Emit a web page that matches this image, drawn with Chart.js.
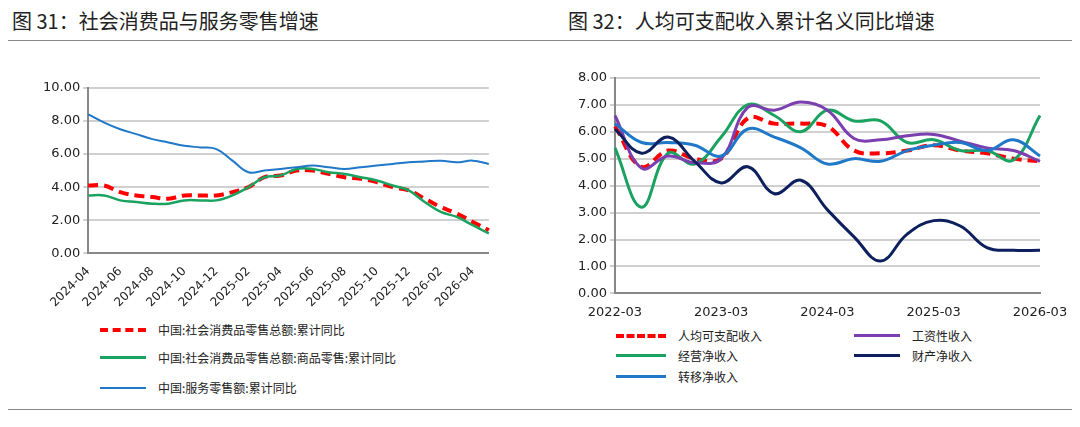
<!DOCTYPE html>
<html><head><meta charset="utf-8">
<script src="https://cdn.jsdelivr.net/npm/chart.js@4/dist/chart.umd.min.js"></script>
<style>
body{margin:0;width:1080px;height:427px;background:#fff;position:relative;font-family:"Noto Sans CJK SC",sans-serif;overflow:hidden}
.title{position:absolute;top:6px;font-size:20px;color:#222}
.rule{position:absolute;left:8px;width:1064px;border-top:1px solid #888}
.box{position:absolute}
.leg{position:absolute;font-size:12px;color:#222;display:flex;align-items:center}
.leg span{display:inline-block;width:46px;margin-right:12px}
</style></head><body>
<div class="title" style="left:12px">图 31：社会消费品与服务零售增速</div>
<div class="title" style="left:568px">图 32：人均可支配收入累计名义同比增速</div>
<div class="rule" style="top:40px"></div>
<div class="rule" style="top:409px"></div>
<div class="box" style="left:40px;top:77px;width:462px;height:236px"><canvas id="c1"></canvas></div>
<div class="box" style="left:575px;top:67px;width:505px;height:256px"><canvas id="c2"></canvas></div>

<div class="leg" style="left:100px;top:321px"><span style="border-top:4px dashed #f00"></span>中国:社会消费品零售总额:累计同比</div>
<div class="leg" style="left:100px;top:349px"><span style="border-top:3px solid #1aa260"></span>中国:社会消费品零售总额:商品零售:累计同比</div>
<div class="leg" style="left:100px;top:379px"><span style="border-top:2px solid #1f78c8"></span>中国:服务零售额:累计同比</div>

<div class="leg" style="left:616px;top:327px"><span style="border-top:4px dashed #f00;width:50px"></span>人均可支配收入</div>
<div class="leg" style="left:854px;top:327px"><span style="border-top:3px solid #7b3fb0"></span>工资性收入</div>
<div class="leg" style="left:616px;top:347px"><span style="border-top:3px solid #1aa260;width:50px"></span>经营净收入</div>
<div class="leg" style="left:854px;top:347px"><span style="border-top:3px solid #0d1f5c"></span>财产净收入</div>
<div class="leg" style="left:616px;top:368px"><span style="border-top:3px solid #1f78c8;width:50px"></span>转移净收入</div>

<script>
var months = ['2024-04','2024-05','2024-06','2024-07','2024-08','2024-09','2024-10','2024-11','2024-12','2025-01','2025-02','2025-03','2025-04','2025-05','2025-06','2025-07','2025-08','2025-09','2025-10','2025-11','2025-12','2026-01','2026-02','2026-03','2026-04','2026-05'];
var retailTotal = [4.1,4.1,3.7,3.5,3.4,3.3,3.5,3.5,3.5,3.7,4.0,4.6,4.7,5.0,5.0,4.8,4.6,4.5,4.3,4.0,3.8,3.3,2.8,2.4,1.9,1.4];
var retailGoods = [3.5,3.5,3.2,3.1,3.0,3.0,3.2,3.2,3.2,3.5,4.0,4.6,4.7,5.1,5.1,4.9,4.8,4.6,4.4,4.1,3.8,3.1,2.5,2.2,1.7,1.2];
var serviceRetail = [8.4,7.9,7.5,7.2,6.9,6.7,6.5,6.4,6.3,5.6,4.9,5.0,5.1,5.2,5.3,5.2,5.1,5.2,5.3,5.4,5.5,5.55,5.6,5.5,5.6,5.4];

var quarters = ['2022-03','2022-06','2022-09','2022-12','2023-03','2023-06','2023-09','2023-12','2024-03','2024-06','2024-09','2024-12','2025-03','2025-06','2025-09','2025-12','2026-03'];
var incomeTotal = [6.2,4.7,5.3,5.0,5.0,6.5,6.3,6.3,6.2,5.3,5.2,5.3,5.5,5.3,5.2,5.0,4.9];
var wageIncome = [6.6,4.65,5.1,4.85,5.0,6.9,6.8,7.1,6.8,5.75,5.7,5.85,5.9,5.65,5.4,5.3,4.9];
var businessIncome = [5.4,3.2,5.2,4.8,5.8,7.0,6.6,6.0,6.8,6.4,6.4,5.6,5.7,5.3,5.3,4.95,6.6];
var propertyIncome = [6.1,5.2,5.8,4.9,4.1,4.7,3.7,4.2,3.1,2.1,1.2,2.2,2.7,2.5,1.7,1.6,1.6];
var transferIncome = [6.3,5.6,5.6,5.5,5.1,6.1,5.8,5.4,4.8,5.0,4.9,5.3,5.5,5.6,5.3,5.7,5.1];

Chart.defaults.font.family = '"DejaVu Sans", sans-serif';
Chart.defaults.color = '#222';

function ds(data, color, w, dash) {
  return {data: data, borderColor: color, borderWidth: w, borderDash: dash || [], pointRadius: 0, tension: 0.4, fill: false};
}
function yAxis(max, step) {
  return {min: 0, max: max, ticks: {stepSize: step, font: {size: 13}, callback: function(v){ return v.toFixed(2); }},
    grid: {color: '#d0d0d0', lineWidth: 2, drawTicks: true, tickLength: 5},
    border: {color: '#888', width: 2}};
}

new Chart(document.getElementById('c1'), {
  type: 'line',
  data: {labels: months, datasets: [
    ds(serviceRetail, '#1f78c8', 2),
    ds(retailGoods, '#1aa260', 2.5),
    ds(retailTotal, '#f00', 4, [10, 6])
  ]},
  options: {
    responsive: true, maintainAspectRatio: false, animation: false,
    plugins: {legend: {display: false}, tooltip: {enabled: false}},
    scales: {
      x: {offset: false, grid: {display: false}, border: {color: '#888', width: 2},
        ticks: {autoSkip: false, maxRotation: 45, minRotation: 45, font: {size: 12},
          callback: function(v, i){ return i % 2 == 0 ? months[i] : ''; }}},
      y: yAxis(10, 2)
    }
  }
});

new Chart(document.getElementById('c2'), {
  type: 'line',
  data: {labels: quarters, datasets: [
    ds(propertyIncome, '#0d1f5c', 3),
    ds(transferIncome, '#1f78c8', 3),
    ds(wageIncome, '#7b3fb0', 3),
    ds(businessIncome, '#1aa260', 3),
    ds(incomeTotal, '#f00', 4, [10, 6])
  ]},
  options: {
    responsive: true, maintainAspectRatio: false, animation: false,
    layout: {padding: {right: 40}},
    plugins: {legend: {display: false}, tooltip: {enabled: false}},
    scales: {
      x: {offset: false, grid: {display: false}, border: {color: '#888', width: 2},
        ticks: {autoSkip: false, maxRotation: 0, font: {size: 13},
          callback: function(v, i){ return i % 4 == 0 ? quarters[i] : ''; }}},
      y: yAxis(8, 1)
    }
  }
});
</script>
</body></html>
